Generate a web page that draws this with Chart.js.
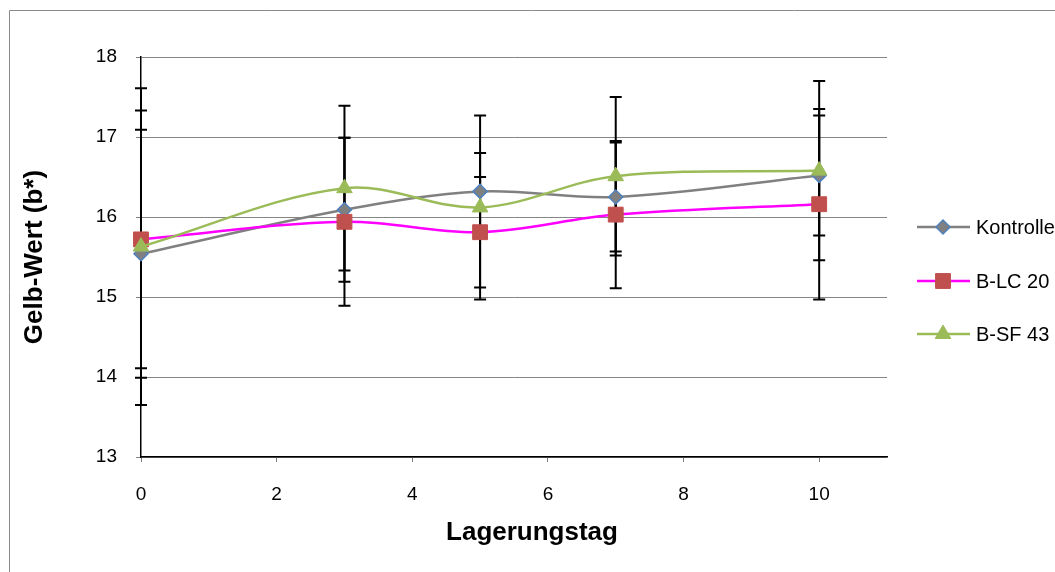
<!DOCTYPE html>
<html>
<head>
<meta charset="utf-8">
<script src="https://cdn.jsdelivr.net/npm/chart.js@4.4.1/dist/chart.umd.min.js"></script>
<style>
  html, body { margin: 0; padding: 0; background: #ffffff; }
  #wrap { position: relative; width: 1055px; height: 572px; }
</style>
</head>
<body>
<div id="wrap"><canvas id="c" width="1055" height="572"></canvas></div>
<script>
// Storage days
const days = [0, 3, 5, 7, 10];

// Yellow value b* per formulation (mean values)
const kontrolle = [15.54, 16.09, 16.32, 16.25, 16.52];
const blc20     = [15.72, 15.94, 15.81, 16.03, 16.16];
const bsf43     = [15.63, 16.36, 16.12, 16.51, 16.58];

// Standard deviations (symmetric error bars)
const kontrolleSd = [1.55, 0.90, 0.48, 0.68, 0.75];
const blc20Sd     = [1.61, 1.05, 0.69, 0.92, 1.19];
const bsf43Sd     = [1.98, 1.03, 1.15, 0.99, 1.12];

const seriesNames = ['Kontrolle', 'B-LC 20', 'B-SF 43'];
const yTicks = [13, 14, 15, 16, 17, 18];
const xTicks = [0, 2, 4, 6, 8, 10];
const xTitle = 'Lagerungstag';

const FONT = "'Liberation Sans', Arial, sans-serif";

function toPoints(vals) { return days.map((d, i) => ({ x: d, y: vals[i] })); }

// Outer frame of the chart object and the horizontal axis title
const framePlugin = {
  id: 'frame',
  beforeDraw(chart) {
    const ctx = chart.ctx;
    ctx.save();
    ctx.strokeStyle = '#8a8a8a';
    ctx.lineWidth = 1;
    ctx.beginPath();
    ctx.moveTo(9.5, chart.height + 5);
    ctx.lineTo(9.5, 10.5);
    ctx.lineTo(chart.width + 5, 10.5);
    ctx.stroke();
    ctx.fillStyle = '#000000';
    ctx.font = 'bold 26px ' + FONT;
    ctx.textAlign = 'center';
    ctx.textBaseline = 'middle';
    ctx.fillText(xTitle, 532, 533);
    ctx.restore();
  }
};

// Vertical error bars with caps, drawn under the markers
const errorBarPlugin = {
  id: 'errorBars',
  beforeDatasetsDraw(chart) {
    const ctx = chart.ctx;
    const xs = chart.scales.x, ys = chart.scales.y;
    ctx.save();
    ctx.strokeStyle = '#000000';
    ctx.lineWidth = 2;
    chart.data.datasets.forEach(ds => {
      const sd = ds.errors;
      if (!sd) return;
      ds.data.forEach((p, i) => {
        const px = xs.getPixelForValue(p.x);
        const top = ys.getPixelForValue(p.y + sd[i]);
        const bot = ys.getPixelForValue(p.y - sd[i]);
        ctx.beginPath();
        ctx.moveTo(px, top);
        ctx.lineTo(px, bot);
        ctx.moveTo(px - 6, top);
        ctx.lineTo(px + 6, top);
        ctx.moveTo(px - 6, bot);
        ctx.lineTo(px + 6, bot);
        ctx.stroke();
      });
    });
    ctx.restore();
  }
};

// Legend on the right: line sample with marker and series name
const sideLegendPlugin = {
  id: 'sideLegend',
  afterDraw(chart) {
    const ctx = chart.ctx;
    const rows = [227, 281, 334];
    const x0 = 917, x1 = 970, xm = 943, tx = 976;
    ctx.save();
    chart.data.datasets.forEach((ds, i) => {
      const y = rows[i];
      ctx.strokeStyle = ds.borderColor;
      ctx.lineWidth = ds.borderWidth;
      ctx.beginPath();
      ctx.moveTo(x0, y);
      ctx.lineTo(x1, y);
      ctx.stroke();
      ctx.fillStyle = ds.pointBackgroundColor;
      ctx.strokeStyle = ds.pointBorderColor;
      ctx.lineWidth = ds.pointBorderWidth;
      Chart.helpers.drawPoint(ctx, {
        pointStyle: ds.pointStyle, radius: ds.pointRadius,
        borderWidth: ds.pointBorderWidth, rotation: 0
      }, xm, y);
      ctx.fillStyle = '#000000';
      ctx.font = '20px ' + FONT;
      ctx.textAlign = 'left';
      ctx.textBaseline = 'middle';
      ctx.fillText(ds.label, tx, y + 1);
    });
    ctx.restore();
  }
};

const datasets = [
  {
    label: seriesNames[0], data: toPoints(kontrolle), errors: kontrolleSd,
    borderColor: '#808080', borderWidth: 2.5,
    pointStyle: 'rectRot', pointRadius: 7, pointBorderWidth: 1.5,
    pointBackgroundColor: '#808080', pointBorderColor: '#4F81BD', order: 3
  },
  {
    label: seriesNames[1], data: toPoints(blc20), errors: blc20Sd,
    borderColor: '#FF00FF', borderWidth: 2.5,
    pointStyle: 'rect', pointRadius: 10.5, pointBorderWidth: 1,
    pointBackgroundColor: '#C0504D', pointBorderColor: '#C0504D', order: 2
  },
  {
    label: seriesNames[2], data: toPoints(bsf43), errors: bsf43Sd,
    borderColor: '#9BBB59', borderWidth: 2.5,
    pointStyle: 'triangle', pointRadius: 9, pointBorderWidth: 1,
    pointBackgroundColor: '#9BBB59', pointBorderColor: '#9BBB59', order: 1
  }
];
datasets.forEach(d => {
  d.tension = 0.35;
  d.fill = false;
  d.pointHoverRadius = d.pointRadius;
  d.clip = false;
});

new Chart(document.getElementById('c'), {
  type: 'line',
  data: { datasets },
  options: {
    responsive: false,
    animation: false,
    events: [],
    layout: { padding: { left: 0, top: 57, right: 168, bottom: 0 } },
    plugins: { legend: { display: false }, tooltip: { enabled: false }, title: { display: false } },
    scales: {
      x: {
        type: 'linear', min: 0, max: 11,
        afterFit(s) { s.height = 115; },
        afterBuildTicks(s) { s.ticks = xTicks.map(v => ({ value: v })); },
        ticks: { font: { family: FONT, size: 19 }, color: '#000000', padding: 21, includeBounds: false, maxRotation: 0 },
        grid: { drawOnChartArea: false, drawTicks: true, tickLength: 5, tickColor: '#808080' },
        border: { color: '#000000', width: 1.5 }
      },
      y: {
        type: 'linear', min: 13, max: 18,
        afterFit(s) { s.width = 141; },
        afterBuildTicks(s) { s.ticks = yTicks.map(v => ({ value: v })); },
        ticks: { font: { family: FONT, size: 19 }, color: '#000000', padding: 19 },
        grid: { color: '#868686', lineWidth: 1, drawTicks: true, tickLength: 5, tickColor: '#808080' },
        border: { color: '#000000', width: 1.5 },
        title: {
          display: true, text: 'Gelb-Wert (b*)', color: '#000000',
          font: { family: FONT, size: 26, weight: 'bold' },
          padding: { top: 19, bottom: 0 }
        }
      }
    }
  },
  plugins: [framePlugin, errorBarPlugin, sideLegendPlugin]
});
</script>
</body>
</html>
